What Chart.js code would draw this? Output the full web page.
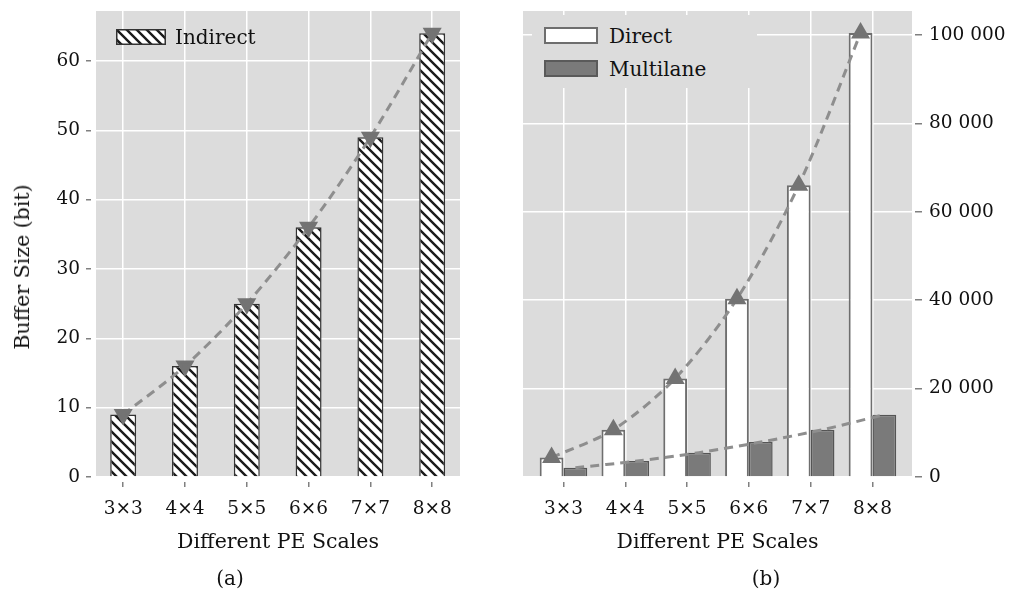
<!DOCTYPE html>
<html>
<head>
<meta charset="utf-8">
<script src="https://cdn.jsdelivr.net/npm/chart.js@4.4.1/dist/chart.umd.min.js"></script>
<style>
    body { margin: 0; background: #fff; width: 1009px; height: 592px; position: relative; overflow: hidden; font-family: 'DejaVu Serif', serif; color: #111; }
    canvas.panel { position: absolute; top: 0; }
    #leftChart { left: 0; }
    #rightChart { left: 505px; }
    .ytitle { position: absolute; left: 22px; top: 267px; transform: translate(-50%, -50%) rotate(-90deg); font-size: 20.5px; white-space: nowrap; }
    .lg-text { position: absolute; font-size: 20px; line-height: 24px; white-space: nowrap; }
    .swatch { position: absolute; box-sizing: border-box; }
    #legendBox { position: absolute; left: 532px; top: 15px; width: 225px; height: 73px; background: #dcdcdc; }
</style>
</head>
<body>
<canvas id="leftChart" class="panel" width="505" height="592"></canvas>
<canvas id="rightChart" class="panel" width="504" height="592"></canvas>

<div class="ytitle">Buffer Size (bit)</div>

<!-- legend (a) -->
<canvas id="hatchSwatch" class="swatch" width="50" height="16" style="left:116px;top:29px;"></canvas>
<div class="lg-text" style="left:175px;top:25px;">Indirect</div>

<!-- legend (b) -->
<div id="legendBox"></div>
<div class="swatch" style="left:544px;top:27px;width:54px;height:17px;background:#fff;border:2px solid #6e6e6e;"></div>
<div class="lg-text" style="left:609px;top:24px;">Direct</div>
<div class="swatch" style="left:544px;top:60px;width:54px;height:17px;background:#7a7a7a;border:2px solid #5a5a5a;"></div>
<div class="lg-text" style="left:609px;top:57px;">Multilane</div>

<script>
// data
const peScales = ['3×3', '4×4', '5×5', '6×6', '7×7', '8×8'];
const indirect = [9, 16, 25, 36, 49, 64];
const direct = [4400, 10700, 22300, 40300, 66000, 100400];
const multilane = [2100, 3600, 5500, 7900, 10700, 14100];
const leftTicks = [0, 10, 20, 30, 40, 50, 60];
const rightTicks = [0, 20000, 40000, 60000, 80000, 100000];

const FONT = 'DejaVu Serif';
const TEXT = '#111';
const BG = '#dcdcdc';
const LINE = '#8e8e8e';
const MARK = '#737373';

// hatch fill for the Indirect bars
function makeHatch() {
    const c = document.createElement('canvas');
    c.width = 10; c.height = 10;
    const g = c.getContext('2d');
    g.fillStyle = '#fff';
    g.fillRect(0, 0, 10, 10);
    g.strokeStyle = '#1a1a1a';
    g.lineWidth = 2.4;
    g.beginPath();
    g.moveTo(-5, -5); g.lineTo(15, 15);
    g.moveTo(-5, 5); g.lineTo(5, 15);
    g.moveTo(5, -5); g.lineTo(15, 5);
    g.stroke();
    return c;
}
const hatchTile = makeHatch();
const hatch = document.getElementById('leftChart').getContext('2d').createPattern(hatchTile, 'repeat');

// legend swatch
(function() {
    const sw = document.getElementById('hatchSwatch');
    const g = sw.getContext('2d');
    g.fillStyle = g.createPattern(hatchTile, 'repeat');
    g.fillRect(0, 0, 50, 16);
    g.strokeStyle = '#333';
    g.lineWidth = 1.5;
    g.strokeRect(0.75, 0.75, 48.5, 14.5);
})();

// grey panel behind the grid
const panelBg = {
    id: 'panelBg',
    beforeDraw(chart) {
        const { ctx, chartArea: a } = chart;
        ctx.save();
        ctx.fillStyle = BG;
        ctx.fillRect(a.left, a.top, a.right - a.left, a.bottom - a.top);
        ctx.restore();
    }
};

function xAxis(min, max) {
    return {
        type: 'linear',
        min: min,
        max: max,
        offset: false,
        afterBuildTicks: s => { s.ticks = peScales.map((_, i) => ({ value: i })); },
        afterFit: s => { s.height = 91; s.paddingLeft = 0; s.paddingRight = 0; },
        grid: { offset: false, color: '#fff', lineWidth: 1.5, tickColor: '#808080', tickLength: 10, tickWidth: 1.5, tickBorderDash: [0, 5, 5] },
        border: { display: false },
        ticks: { padding: 11, color: TEXT, autoSkip: false, maxRotation: 0, font: { family: FONT, size: 18.5 }, callback: v => peScales[v] },
        title: { display: true, text: 'Different PE Scales', color: TEXT, font: { family: FONT, size: 20.5 }, padding: { top: 0, bottom: 13 } }
    };
}

function caption(text) {
    return { display: true, text: text, position: 'bottom', color: TEXT, font: { family: FONT, size: 20, weight: 'normal' }, padding: { top: 0, bottom: 0 } };
}

function fmtThousands(v) {
    return String(v).replace(/\B(?=(\d{3})+(?!\d))/g, ' ');
}

// (a) Indirect
const leftCat = 0.42;
new Chart(document.getElementById('leftChart'), {
    type: 'bar',
    data: {
        datasets: [
            {
                type: 'line',
                order: 0,
                data: indirect.map((v, i) => ({ x: i, y: v })),
                borderColor: LINE,
                borderWidth: 3,
                borderDash: [9, 6],
                tension: 0.3,
                fill: false,
                pointStyle: 'triangle',
                pointRotation: 180,
                pointRadius: 8,
                pointBackgroundColor: MARK,
                pointBorderColor: MARK
            },
            {
                label: 'Indirect',
                order: 1,
                data: indirect.map((v, i) => ({ x: i, y: v })),
                backgroundColor: hatch,
                borderColor: '#333',
                borderWidth: 1.5,
                categoryPercentage: leftCat,
                barPercentage: 1
            }
        ]
    },
    options: {
        responsive: false,
        animation: false,
        layout: { padding: { top: 9, right: 45, left: 0, bottom: 0 } },
        plugins: { legend: { display: false }, tooltip: { enabled: false }, title: caption('(a)') },
        scales: {
            x: xAxis(-0.44, 5.45),
            y: {
                min: 0,
                max: 67.2,
                afterBuildTicks: s => { s.ticks = leftTicks.map(v => ({ value: v })); },
                afterFit: s => { s.width = 96; s.paddingTop = 0; s.paddingBottom = 0; },
                grid: { color: '#fff', lineWidth: 1.5, tickColor: '#808080', tickLength: 10, tickWidth: 1.5, tickBorderDash: [5, 5] },
                border: { display: false },
                ticks: { padding: 6, color: TEXT, font: { family: FONT, size: 18.5 } }
            }
        }
    },
    plugins: [panelBg]
});

// (b) Direct / Multilane
const rightCat = 0.77;
const shift = rightCat / 4;
new Chart(document.getElementById('rightChart'), {
    type: 'bar',
    data: {
        datasets: [
            {
                type: 'line',
                order: 0,
                data: direct.map((v, i) => ({ x: i - shift, y: v })),
                borderColor: LINE,
                borderWidth: 3,
                borderDash: [9, 6],
                tension: 0.3,
                fill: false,
                pointStyle: 'triangle',
                pointRadius: 8,
                pointBackgroundColor: MARK,
                pointBorderColor: MARK
            },
            {
                type: 'line',
                order: 0,
                data: multilane.map((v, i) => ({ x: i + shift, y: v })),
                borderColor: LINE,
                borderWidth: 3,
                borderDash: [9, 6],
                tension: 0.3,
                fill: false,
                pointRadius: 0
            },
            {
                label: 'Direct',
                order: 1,
                data: direct.map((v, i) => ({ x: i, y: v })),
                backgroundColor: '#fff',
                borderColor: '#6e6e6e',
                borderWidth: 2,
                categoryPercentage: rightCat,
                barPercentage: 1
            },
            {
                label: 'Multilane',
                order: 1,
                data: multilane.map((v, i) => ({ x: i, y: v })),
                backgroundColor: '#7a7a7a',
                borderColor: '#555',
                borderWidth: 1.5,
                categoryPercentage: rightCat,
                barPercentage: 1
            }
        ]
    },
    options: {
        responsive: false,
        animation: false,
        layout: { padding: { top: 8, right: 0, left: 18, bottom: 0 } },
        plugins: { legend: { display: false }, tooltip: { enabled: false }, title: caption('(b)') },
        scales: {
            x: xAxis(-0.655, 5.64),
            y: {
                position: 'right',
                min: 0,
                max: 105400,
                afterBuildTicks: s => { s.ticks = rightTicks.map(v => ({ value: v })); },
                afterFit: s => { s.width = 97; s.paddingTop = 0; s.paddingBottom = 0; },
                grid: { color: '#fff', lineWidth: 1.5, tickColor: '#808080', tickLength: 10, tickWidth: 1.5, tickBorderDash: [0, 3, 7] },
                border: { display: false },
                ticks: { padding: 7, color: TEXT, font: { family: FONT, size: 18.5 }, callback: v => fmtThousands(v) }
            }
        }
    },
    plugins: [panelBg]
});
</script>
</body>
</html>
